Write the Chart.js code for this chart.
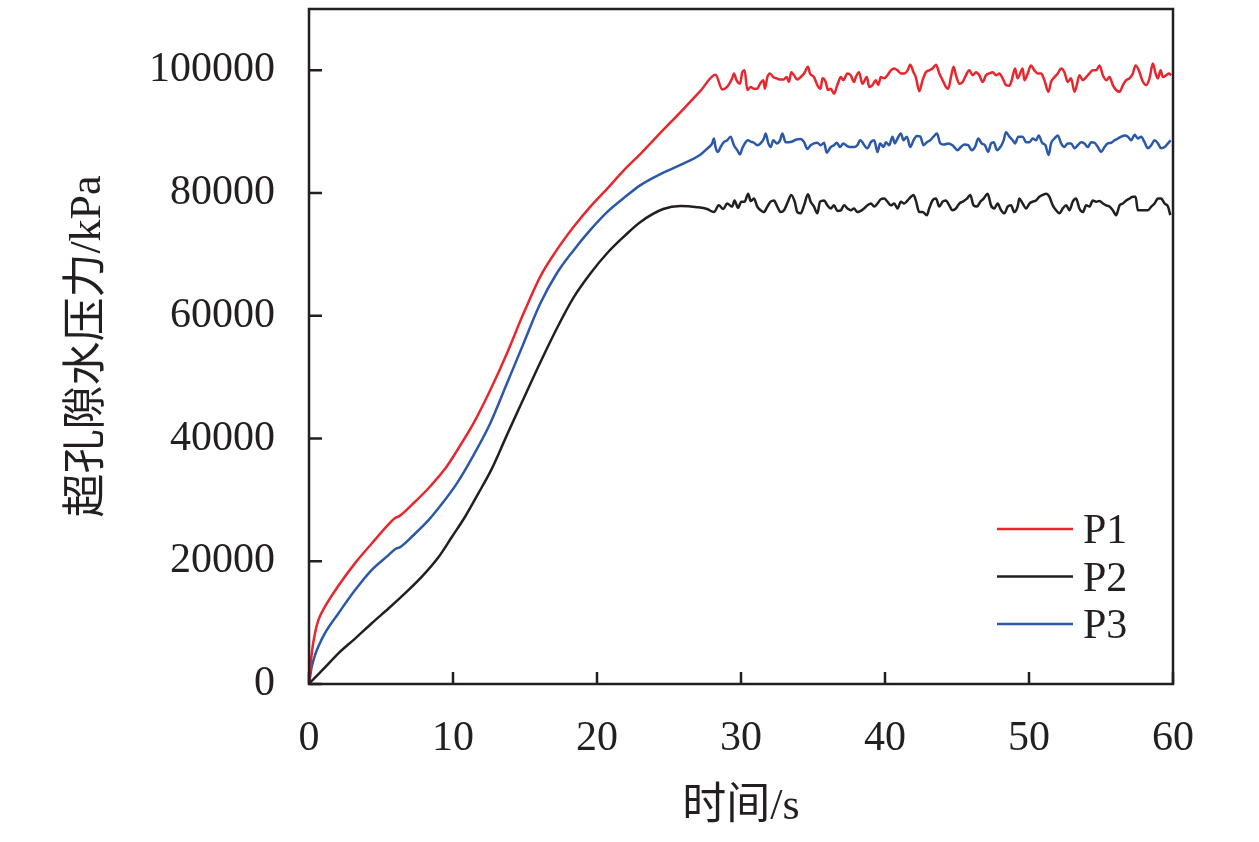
<!DOCTYPE html>
<html>
<head>
<meta charset="utf-8">
<script src="https://cdn.jsdelivr.net/npm/chart.js@4.4.1/dist/chart.umd.min.js"></script>
<style>
  html, body { margin: 0; padding: 0; background: #fff; }
  #wrap { width: 1259px; height: 842px; }
</style>
</head>
<body>
<div id="wrap"><canvas id="c" width="1259" height="842"></canvas></div>
<script>
// time (s), excess pore water pressure (kPa)
const p1 = [
  [0,0],[0.19,5000],[0.42,8300],[0.65,10400],[1.11,12600],[2.04,16000],[3.2,19700],[4.36,22900],
  [5.52,26000],[5.95,27000],[6.3,27400],[7.14,29200],[8.3,31900],[9.46,35100],[10.27,38000],
  [11.43,42500],[12.59,47900],[13.75,53900],[14.9,60400],[16.06,66400],[17.2,70700],[18.38,74500],
  [19.54,77800],[20.7,80700],[21.86,83700],[23.02,86400],[24.4,89800],[25.8,93200],[27.2,96700],
  [28.23,99300],[28.70,96900],
  [29.04,97300],[29.39,98700],[29.51,99500],[29.69,98400],[29.93,97800],[30.09,99700],[30.25,100000],
  [30.44,96800],[30.67,97300],[30.90,97000],[31.13,97000],[31.32,97800],[31.55,98400],[31.66,97000],
  [31.83,98900],[32.01,99500],[32.24,98900],[32.48,98700],[32.71,98500],[32.94,98500],[33.17,98900],
  [33.33,98100],[33.49,99700],[33.68,99200],[33.91,98500],[34.14,98900],[34.38,99500],[34.65,100600],
  [34.79,99500],[35.07,98900],[35.30,97600],[35.53,97000],[35.65,98700],[35.88,98100],[36.04,96800],
  [36.23,97000],[36.46,96200],[36.69,97600],[36.93,98900],[37.11,98400],[37.39,99500],[37.62,99200],
  [37.85,98100],[37.97,98900],[38.20,99700],[38.43,97800],[38.74,98900],[38.90,97300],[39.13,97600],
  [39.36,98400],[39.53,97600],[39.71,98900],[39.94,98700],[40.17,99200],[40.41,100000],[40.64,100300],
  [40.87,100000],[41.10,99500],[41.33,99500],[41.57,100000],[41.75,100900],[41.98,99700],[42.14,98900],
  [42.38,96600],[42.61,98400],[42.84,99700],[43.07,100000],[43.30,100300],[43.54,100900],[43.77,99500],
  [44.00,98400],[44.23,97300],[44.39,97000],[44.58,98900],[44.76,100600],[44.93,99200],[45.16,97800],
  [45.39,98100],[45.62,99200],[45.85,100000],[46.09,99200],[46.32,99700],[46.55,99200],[46.78,98100],
  [47.01,99200],[47.24,99500],[47.48,99700],[47.71,99200],[47.94,99500],[48.17,98700],[48.40,97600],
  [48.64,97500],[48.80,98400],[49.03,100300],[49.21,98700],[49.56,100300],[49.68,98400],[49.91,99500],
  [50.14,100800],[50.37,100000],[50.61,99500],[50.84,99500],[51.07,98400],[51.35,96500],[51.53,98100],
  [51.77,98900],[52.00,99500],[52.23,100300],[52.46,99700],[52.69,98100],[52.92,98700],[53.16,96500],
  [53.32,97600],[53.50,99200],[53.74,98400],[53.97,98900],[54.20,99500],[54.43,100000],[54.66,100000],
  [54.90,100800],[55.13,99200],[55.36,98400],[55.59,98900],[55.82,97600],[56.05,96800],[56.29,96500],
  [56.52,97600],[56.75,98400],[56.98,98700],[57.21,99500],[57.40,100800],[57.63,100000],[57.86,98400],
  [58.14,97600],[58.37,98700],[58.60,101100],[58.79,99500],[58.95,98700],[59.14,100000],[59.30,98900],
  [59.53,99200],[59.72,99500],[59.88,99200]
];

const p2 = [
  [0,0],[0.19,500],[1.11,2700],[2.04,5000],[3.2,7400],[4.36,9900],[5.52,12300],[6.68,14800],
  [7.84,17500],[9.0,20700],[9.93,24000],[10.85,27300],[11.77,31100],[12.7,35100],[13.75,40600],
  [14.9,46500],[16.06,52400],[17.2,57900],[18.38,63000],[19.54,66900],[20.7,70200],[21.86,72900],
  [23.02,75300],[24.6,77400],[25.8,77900],[26.96,77700],[27.65,77400],[28.12,76900],[28.46,78000],
  [28.77,77400],[29.04,78300],[29.39,77800],[29.55,78800],[29.79,77600],[30.02,78600],[30.25,78600],
  [30.50,79900],[30.67,78700],[30.90,79100],[31.13,77800],[31.36,77200],[31.59,76900],[31.83,77800],
  [32.06,78600],[32.29,78800],[32.52,77800],[32.75,76900],[32.99,77200],[33.26,78600],[33.49,79700],
  [33.73,78600],[33.91,76900],[34.14,76700],[34.38,78000],[34.65,79800],[34.84,78600],[35.07,77800],
  [35.30,76700],[35.49,78600],[35.77,78800],[36.00,78000],[36.23,77500],[36.46,78000],[36.69,77100],
  [36.93,77200],[37.16,78000],[37.39,77500],[37.62,77200],[37.85,77500],[38.08,76900],[38.55,77500],
  [38.78,78000],[39.02,78300],[39.25,77800],[39.48,78300],[39.71,79000],[39.94,79100],[40.17,78600],
  [40.41,78000],[40.64,78300],[40.87,77500],[41.10,78600],[41.33,78300],[41.57,78800],[41.80,79400],
  [41.98,79700],[42.14,78800],[42.38,76900],[42.61,76900],[42.91,76400],[43.07,77500],[43.30,78800],
  [43.54,79100],[43.77,77800],[44.00,78600],[44.23,78800],[44.46,78000],[44.69,77200],[44.93,77500],
  [45.16,78300],[45.39,78600],[45.69,79100],[45.92,79700],[46.15,78000],[46.39,77800],[46.62,78600],
  [46.85,79100],[47.13,79900],[47.36,78000],[47.59,77500],[47.82,78300],[48.06,77200],[48.29,76700],
  [48.52,77800],[48.75,78000],[48.98,76900],[49.21,77800],[49.33,79100],[49.56,78300],[49.80,77500],
  [50.03,78300],[50.26,78600],[50.49,78800],[50.72,79400],[50.95,79700],[51.19,79900],[51.42,79400],
  [51.65,78000],[51.88,77200],[52.11,76700],[52.35,77500],[52.58,78000],[52.81,77200],[53.04,78600],
  [53.27,79100],[53.50,77500],[53.74,76900],[53.97,78000],[54.20,77800],[54.43,78800],[54.66,78600],
  [54.90,78700],[55.13,78300],[55.36,78000],[55.59,77800],[55.82,77200],[56.05,76400],[56.29,78000],
  [56.52,78300],[56.75,78800],[56.98,79100],[57.21,79400],[57.40,79400],[57.56,77200],[57.79,77200],
  [58.02,77200],[58.26,77200],[58.49,77800],[58.72,78300],[58.95,79100],[59.18,79100],[59.42,78300],
  [59.65,77800],[59.81,76400]
];

const p3 = [
  [0,0],[0.19,2800],[0.42,4700],[0.65,6100],[1.11,8300],[2.04,11500],[3.2,15300],[4.36,18600],
  [5.52,21000],[6.0,22000],[6.33,22300],[7.14,24000],[8.3,26700],[9.11,29000],[10.27,32700],
  [11.43,37300],[12.59,42500],[13.75,49000],[14.9,55500],[16.06,62000],[17.2,66900],[18.38,70700],
  [19.54,74000],[20.7,76900],[21.86,79200],[23.02,81300],[24.4,83100],[25.8,84600],[27.2,86300],
  [27.54,87000],[27.77,87500],[28.00,88100],
  [28.12,88900],[28.23,87500],[28.40,86700],[28.58,87500],[28.81,88300],[29.04,88600],[29.28,89200],
  [29.51,87800],[29.74,87000],[29.93,86300],[30.09,87300],[30.32,88300],[30.48,88600],[30.67,88400],
  [30.90,88200],[31.13,87800],[31.36,88100],[31.59,88900],[31.71,89700],[31.90,88100],[32.06,87500],
  [32.24,88600],[32.48,88100],[32.71,88600],[32.87,89700],[33.10,88300],[33.33,88300],[33.56,88400],
  [33.80,88700],[34.14,88800],[34.38,88300],[34.61,87200],[34.84,87800],[35.07,88100],[35.30,88200],
  [35.53,87800],[35.77,88200],[35.95,86600],[36.23,87500],[36.46,87800],[36.65,88200],[36.88,87500],
  [37.11,88100],[37.34,87700],[37.57,87500],[37.85,87500],[38.08,87800],[38.27,88600],[38.78,87300],
  [39.02,88300],[39.25,88600],[39.48,86700],[39.66,88100],[39.90,87500],[40.06,88300],[40.29,87800],
  [40.52,89200],[40.68,88100],[40.87,88900],[41.10,89700],[41.29,88600],[41.52,89200],[41.75,87500],
  [41.98,88600],[42.21,89300],[42.45,89200],[42.68,87800],[42.91,88300],[43.14,88600],[43.37,89200],
  [43.61,89700],[43.84,88100],[44.12,87900],[44.39,88100],[44.69,87800],[45.04,87000],[45.27,87500],
  [45.51,87900],[45.78,87800],[46.02,87000],[46.25,87500],[46.48,88900],[46.71,88100],[46.94,87800],
  [47.17,86700],[47.36,88100],[47.55,88300],[47.78,87000],[48.01,87500],[48.24,88600],[48.40,89900],
  [48.64,89200],[48.87,88600],[49.03,88100],[49.26,89200],[49.56,89200],[49.80,88300],[50.03,88300],
  [50.26,88900],[50.49,88600],[50.68,89400],[50.91,88200],[51.14,87800],[51.37,86200],[51.53,88100],
  [51.77,88900],[52.00,89400],[52.23,88100],[52.46,87500],[52.69,88100],[52.92,88100],[53.16,87300],
  [53.39,87800],[53.62,88300],[53.85,88100],[54.08,87500],[54.32,88300],[54.55,88200],[54.78,87500],
  [55.01,86700],[55.24,87500],[55.47,88100],[55.71,88200],[55.94,88600],[56.17,88900],[56.40,89200],
  [56.63,89400],[56.87,89200],[57.10,88600],[57.33,89500],[57.56,88900],[57.79,89200],[58.02,88300],
  [58.26,87300],[58.49,87800],[58.72,88600],[58.95,88100],[59.18,87300],[59.42,87500],[59.65,88100],
  [59.83,88600]
];

const seriesNames = ['P1', 'P2', 'P3'];
const seriesColors = ['#e8262d', '#231f20', '#2b58a8'];
const xTicks = [0, 10, 20, 30, 40, 50, 60];
const yTicks = [0, 20000, 40000, 60000, 80000, 100000];

const AXIS_COLOR = '#231f20';
const FONT = "'Liberation Serif', 'Times New Roman', 'Noto Sans CJK SC', serif";

function toPoints(rows) {
  return rows.map(([x, y]) => ({ x, y }));
}

// frame box, inward ticks and the in-plot legend
const framePlugin = {
  id: 'frame',
  afterDatasetsDraw(chart) {
    const { ctx, chartArea: a, scales } = chart;
    ctx.save();
    ctx.strokeStyle = AXIS_COLOR;
    ctx.lineWidth = 2.5;
    ctx.strokeRect(a.left, a.top, a.right - a.left, a.bottom - a.top);

    ctx.beginPath();
    xTicks.forEach(v => {
      const px = scales.x.getPixelForValue(v);
      ctx.moveTo(px, a.bottom);
      ctx.lineTo(px, a.bottom - 12);
    });
    yTicks.forEach(v => {
      const py = scales.y.getPixelForValue(v);
      ctx.moveTo(a.left, py);
      ctx.lineTo(a.left + 13, py);
    });
    ctx.stroke();

    // legend
    ctx.font = `42px ${FONT}`;
    ctx.textBaseline = 'alphabetic';
    ctx.textAlign = 'left';
    seriesNames.forEach((name, i) => {
      const y = a.bottom - 155 + i * 47.5;
      ctx.strokeStyle = seriesColors[i];
      ctx.lineWidth = 2.5;
      ctx.beginPath();
      ctx.moveTo(a.right - 176, y);
      ctx.lineTo(a.right - 100, y);
      ctx.stroke();
      ctx.fillStyle = AXIS_COLOR;
      ctx.fillText(name, a.right - 90, y + 14);
    });
    ctx.restore();
  }
};

const ctx = document.getElementById('c').getContext('2d');

new Chart(ctx, {
  type: 'line',
  data: {
    datasets: [p1, p2, p3].map((rows, i) => ({
      label: seriesNames[i],
      data: toPoints(rows),
      borderColor: seriesColors[i],
      borderWidth: 2.5,
      pointRadius: 0,
      cubicInterpolationMode: 'monotone',
      fill: false
    }))
  },
  options: {
    responsive: false,
    animation: false,
    devicePixelRatio: 1,
    layout: { padding: { top: 9, right: 86, bottom: 0, left: 0 } },
    plugins: {
      legend: { display: false },
      tooltip: { enabled: false }
    },
    scales: {
      x: {
        type: 'linear',
        min: 0,
        max: 60,
        afterBuildTicks: s => { s.ticks = xTicks.map(v => ({ value: v })); },
        afterFit: s => { s.height = 158; s.paddingLeft = 0; s.paddingRight = 0; },
        grid: { display: false, drawTicks: false },
        border: { display: false },
        ticks: {
          color: AXIS_COLOR,
          padding: 30,
          callback: v => String(v),
          font: { family: FONT, size: 42 }
        },
        title: {
          display: true,
          text: '时间/s',
          color: AXIS_COLOR,
          font: { family: FONT, size: 44 },
          padding: { top: 0, bottom: 8 }
        }
      },
      y: {
        min: 0,
        max: 110000,
        afterBuildTicks: s => { s.ticks = yTicks.map(v => ({ value: v })); },
        afterFit: s => { s.width = 309; s.paddingTop = 0; s.paddingBottom = 0; },
        grid: { display: false, drawTicks: false },
        border: { display: false },
        ticks: {
          color: AXIS_COLOR,
          padding: 34,
          callback: v => String(v),
          font: { family: FONT, size: 42 }
        },
        title: {
          display: true,
          text: '超孔隙水压力/kPa',
          color: AXIS_COLOR,
          font: { family: FONT, size: 44 },
          padding: { top: 62, bottom: 0 }
        }
      }
    }
  },
  plugins: [framePlugin]
});
</script>
</body>
</html>
